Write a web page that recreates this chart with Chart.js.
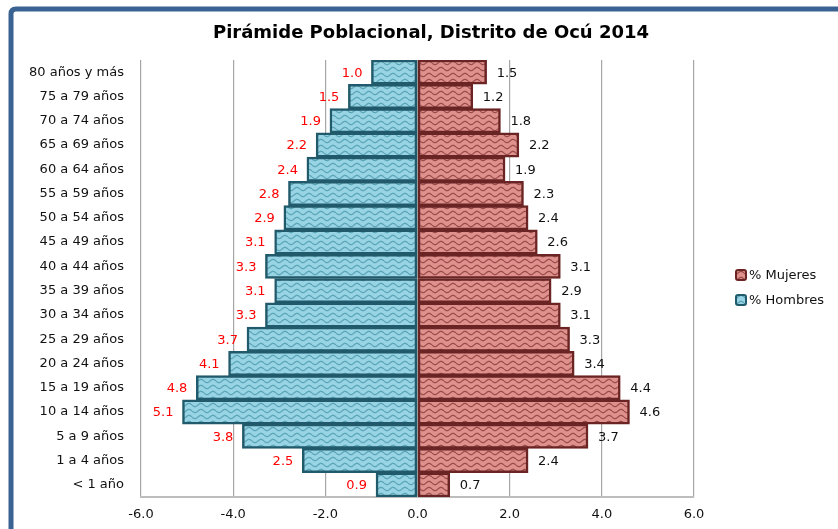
<!DOCTYPE html>
<html>
<head>
<meta charset="utf-8">
<script src="https://cdn.jsdelivr.net/npm/chart.js@4.4.0/dist/chart.umd.min.js"></script>
<style>
  html, body { margin: 0; padding: 0; background: #fff; }
  #wrap { width: 838px; height: 529px; }
</style>
</head>
<body>
<div id="wrap"><canvas id="chart" width="838" height="529"></canvas></div>
<script>
const ageGroups = ["80 años y más", "75 a 79 años", "70 a 74 años", "65 a 69 años", "60 a 64 años",
  "55 a 59 años", "50 a 54 años", "45 a 49 años", "40 a 44 años", "35 a 39 años", "30 a 34 años",
  "25 a 29 años", "20 a 24 años", "15 a 19 años", "10 a 14 años", "5 a 9 años", "1 a 4 años", "< 1 año"];
const hombres = [1.0, 1.5, 1.9, 2.2, 2.4, 2.8, 2.9, 3.1, 3.3, 3.1, 3.3, 3.7, 4.1, 4.8, 5.1, 3.8, 2.5, 0.9];
const mujeres = [1.5, 1.2, 1.8, 2.2, 1.9, 2.3, 2.4, 2.6, 3.1, 2.9, 3.1, 3.3, 3.4, 4.4, 4.6, 3.7, 2.4, 0.7];
const xTicks = [-6, -4, -2, 0, 2, 4, 6];
const chartTitle = 'Pirámide Poblacional, Distrito de Ocú 2014';

const FONT = "'DejaVu Sans', Verdana, sans-serif";

// wavy fill pattern like the excel "wave" texture
function wavePattern(bg, fg) {
  let c = document.createElement('canvas');
  c.width = 12; c.height = 6;
  let g = c.getContext('2d');
  g.fillStyle = bg;
  g.fillRect(0, 0, 12, 6);
  g.strokeStyle = fg;
  g.lineWidth = 1.2;
  g.beginPath();
  for (let x = 0; x <= 12; x += 0.5) {
    let y = 3 + 1.6 * Math.sin(x / 12 * Math.PI * 2);
    if (x == 0) g.moveTo(x, y); else g.lineTo(x, y);
  }
  g.stroke();
  return document.getElementById('chart').getContext('2d').createPattern(c, 'repeat');
}

const maleFill = wavePattern('#98d4e3', '#5ba5b8');
const femaleFill = wavePattern('#df918d', '#9c4d4b');

const framePlugin = {
  id: 'frame',
  beforeDraw(chart) {
    let ctx = chart.ctx;
    ctx.save();
    ctx.fillStyle = '#fff';
    ctx.fillRect(0, 0, chart.width, chart.height);
    ctx.strokeStyle = '#3a6292';
    ctx.lineWidth = 5;
    ctx.beginPath();
    ctx.moveTo(11, chart.height + 10);
    ctx.lineTo(11, 14);
    ctx.quadraticCurveTo(11, 9, 16, 9);
    ctx.lineTo(chart.width + 20, 9);
    ctx.stroke();

    ctx.fillStyle = '#000';
    ctx.font = 'bold 18px ' + FONT;
    ctx.textAlign = 'center';
    ctx.textBaseline = 'middle';
    ctx.fillText(chartTitle, 431, 33);
    ctx.restore();
  }
};

const labelPlugin = {
  id: 'barLabels',
  afterDatasetsDraw(chart) {
    let ctx = chart.ctx;
    ctx.save();
    ctx.font = '13px ' + FONT;
    ctx.textBaseline = 'middle';
    chart.getDatasetMeta(0).data.forEach((bar, i) => {
      ctx.fillStyle = '#ff0000';
      ctx.textAlign = 'right';
      ctx.fillText(hombres[i].toFixed(1), bar.x - 9, bar.y + 1);
    });
    chart.getDatasetMeta(1).data.forEach((bar, i) => {
      ctx.fillStyle = '#111';
      ctx.textAlign = 'left';
      ctx.fillText(mujeres[i].toFixed(1), bar.x + 10, bar.y + 1);
    });

    // legend
    let items = [
      { text: '% Mujeres', fill: femaleFill, border: '#6a2424', y: 275 },
      { text: '% Hombres', fill: maleFill, border: '#215a6b', y: 300 }
    ];
    items.forEach(it => {
      ctx.fillStyle = it.fill;
      ctx.strokeStyle = it.border;
      ctx.lineWidth = 2;
      ctx.beginPath();
      ctx.roundRect(736, it.y - 5, 10, 10, 2);
      ctx.fill();
      ctx.stroke();
      ctx.fillStyle = '#111';
      ctx.textAlign = 'left';
      ctx.fillText(it.text, 749, it.y + 1);
    });
    ctx.restore();
  }
};

new Chart(document.getElementById('chart'), {
  type: 'bar',
  data: {
    labels: ageGroups,
    datasets: [
      {
        label: '% Hombres',
        data: hombres.map(v => -v),
        backgroundColor: maleFill,
        borderColor: '#215a6b',
        borderWidth: 2.5,
        borderSkipped: false
      },
      {
        label: '% Mujeres',
        data: mujeres,
        backgroundColor: femaleFill,
        borderColor: '#6a2424',
        borderWidth: 2.5,
        borderSkipped: false
      }
    ]
  },
  options: {
    indexAxis: 'y',
    responsive: false,
    animation: false,
    layout: { padding: { top: 60, right: 144, bottom: 0, left: 0 } },
    plugins: {
      legend: { display: false },
      tooltip: { enabled: false },
      title: { display: false }
    },
    datasets: { bar: { barPercentage: 1, categoryPercentage: 1 } },
    scales: {
      x: {
        stacked: true,
        min: -6,
        max: 6,
        afterBuildTicks: s => { s.ticks = xTicks.map(v => ({ value: v })); },
        afterFit: s => { s.height = 32; },
        grid: { color: '#a6a6a6', lineWidth: 1.2, drawTicks: false },
        border: { color: '#bdbdbd', width: 2 },
        ticks: {
          color: '#111',
          padding: 10,
          font: { family: FONT, size: 13 },
          callback: v => v.toFixed(1)
        }
      },
      y: {
        stacked: true,
        afterFit: s => { s.width = 141; },
        grid: { display: false, drawTicks: false },
        border: { display: false },
        ticks: {
          color: '#111',
          padding: 17,
          autoSkip: false,
          font: { family: FONT, size: 13 }
        }
      }
    }
  },
  plugins: [framePlugin, labelPlugin]
});
</script>
</body>
</html>
